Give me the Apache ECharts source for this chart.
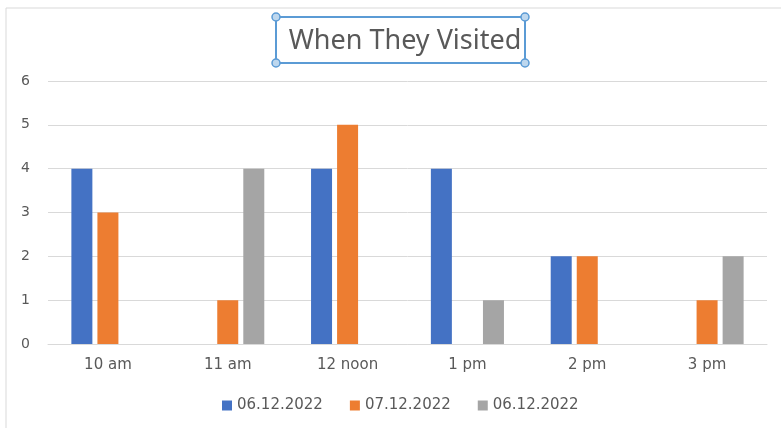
<!DOCTYPE html>
<html>
<head>
<meta charset="utf-8">
<script src="https://cdn.jsdelivr.net/npm/echarts@6/dist/echarts.min.js"></script>
<style>
  html, body { margin: 0; padding: 0; background: #fff; }
  #chart { width: 781px; height: 428px; }
</style>
</head>
<body>
<div id="chart"></div>
<script>
// chart data
const categories = ["10 am", "11 am", "12 noon", "1 pm", "2 pm", "3 pm"];
const seriesLabels = ["06.12.2022", "07.12.2022", "06.12.2022 "]; // trailing space keeps names unique
const seriesColors = ["#4472c4", "#ed7d31", "#a5a5a5"];
const visitsA = [4, 0, 4, 4, 2, 0];
const visitsB = [3, 1, 5, 0, 2, 1];
const visitsC = [0, 4, 0, 1, 0, 2];
const yTicks = [0, 1, 2, 3, 4, 5, 6];

const TEXT = "#595959";
const GRIDLINE = "#d9d9d9";
const FONT = "DejaVu Sans";

const chart = echarts.init(document.getElementById("chart"), null, { renderer: "canvas" });

const seriesValues = [visitsA, visitsB, visitsC];

chart.setOption({
  animation: false,
  textStyle: { fontFamily: FONT },
  title: {
    text: "When They Visited",
    left: 400,
    textAlign: "center",
    top: 23,
    textStyle: { fontFamily: "Noto Sans", fontSize: 27, fontWeight: "normal", color: TEXT },
  },
  legend: {
    data: seriesLabels,
    left: 217,
    top: 393,
    itemWidth: 10,
    itemHeight: 10,
    itemGap: 27,
    icon: "rect",
    formatter: (name) => name.trim(),
    textStyle: { fontFamily: FONT, fontSize: 15, color: TEXT },
  },
  grid: { left: 48, right: 14, top: 81, bottom: 84 },
  xAxis: {
    type: "category",
    data: categories,
    axisLine: { lineStyle: { color: GRIDLINE } },
    axisTick: { show: false },
    axisLabel: { color: TEXT, fontSize: 15, margin: 14 },
  },
  yAxis: {
    type: "value",
    min: yTicks[0],
    max: yTicks[yTicks.length - 1],
    interval: 1,
    axisLine: { show: false },
    axisTick: { show: false },
    axisLabel: { color: TEXT, fontSize: 14, margin: 18 },
    splitLine: { lineStyle: { color: GRIDLINE } },
  },
  series: seriesLabels.map((name, i) => ({
    name: name,
    type: "bar",
    data: seriesValues[i],
    barWidth: 21,
    barGap: "24%",
    itemStyle: { color: seriesColors[i] },
  })),
  graphic: [
    // outer chart-area border
    {
      type: "rect",
      shape: { x: 6, y: 8, width: 800, height: 500 },
      style: { fill: "none", stroke: "#d9d9d9", lineWidth: 1 },
      silent: true,
    },
    // selection frame round the title
    {
      type: "rect",
      shape: { x: 276, y: 17, width: 249, height: 46 },
      style: { fill: "none", stroke: "#5b9bd5", lineWidth: 2 },
      silent: true,
    },
  ].concat(
    [[276, 17], [525, 17], [276, 63], [525, 63]].map((p) => ({
      type: "circle",
      shape: { cx: p[0], cy: p[1], r: 4 },
      style: { fill: "#bdd7ee", stroke: "#5b9bd5", lineWidth: 1.5 },
      silent: true,
    }))
  ),
});
</script>
</body>
</html>
